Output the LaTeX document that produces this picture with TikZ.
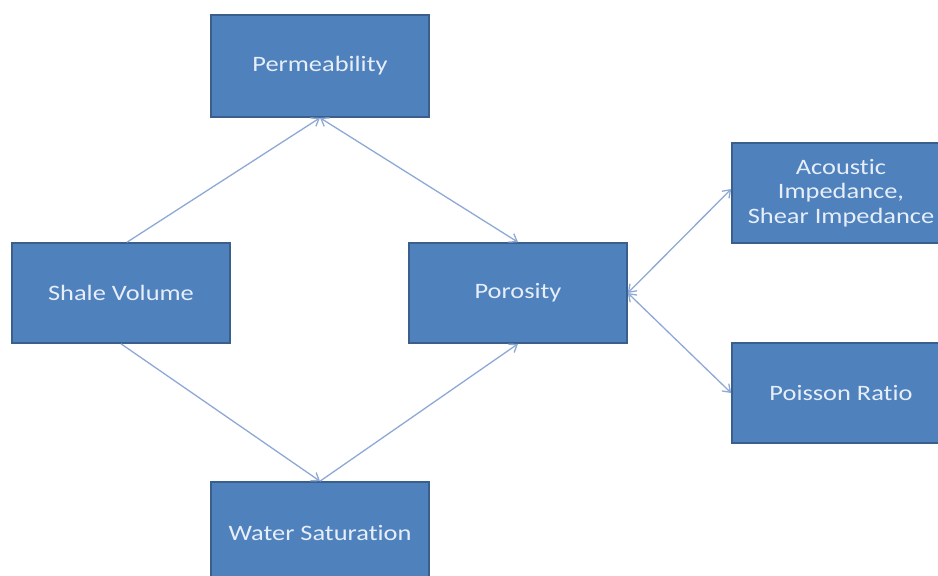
\documentclass[tikz,border=0pt]{standalone}
\usepackage{fontspec}
\setmainfont{Carlito}[FakeStretch=1.2, RawFeature=-liga]
\usetikzlibrary{arrows.meta}
\definecolor{boxfill}{HTML}{4F81BD}
\definecolor{boxline}{HTML}{3A5F8C}
\definecolor{linkcol}{HTML}{8FA9D6}
\definecolor{txtcol}{HTML}{E6EEF9}
\tikzset{
  blockbox/.style={draw=boxline, line width=1.6pt, fill=boxfill, text=txtcol,
    minimum width=218pt, minimum height=100pt, inner sep=2pt, align=center,
    font=\fontsize{22}{24.5}\selectfont},
  link/.style={draw=linkcol, line width=1.3pt, -{Straight Barb[length=7pt,width=10pt]}},
  dlink/.style={draw=linkcol, line width=1.3pt, {Straight Barb[length=7pt,width=10pt]}-{Straight Barb[length=7pt,width=10pt]}}
}
\begin{document}
\begin{tikzpicture}[x=1pt,y=-1pt]
\useasboundingbox (0,0) rectangle (938,576);
\clip (0,0) rectangle (938,576);
\fill[white] (0,0) rectangle (938,576);
\node[blockbox, minimum height=102pt] (perm) at (320,66) {Permeability};
\node[blockbox] (shale) at (121,293) {Shale Volume};
\node[blockbox] (poro) at (518,293) {Porosity};
\node[blockbox] (acou) at (841,193) {Acoustic\\Impedance,\\Shear Impedance};
\node[blockbox] (pois) at (841,393) {Poisson Ratio};
\node[blockbox, minimum height=102pt] (water) at (320,533) {Water Saturation};
\draw[link] ([xshift=6pt]shale.north) -- (perm.south);
\draw[dlink] (perm.south) -- (poro.north);
\draw[link] (shale.south) -- (water.north);
\draw[link] (water.north) -- (poro.south);
\draw[dlink] (poro.east) -- ([yshift=4pt]acou.west);
\draw[dlink] (poro.east) -- (pois.west);
\end{tikzpicture}
\end{document}
